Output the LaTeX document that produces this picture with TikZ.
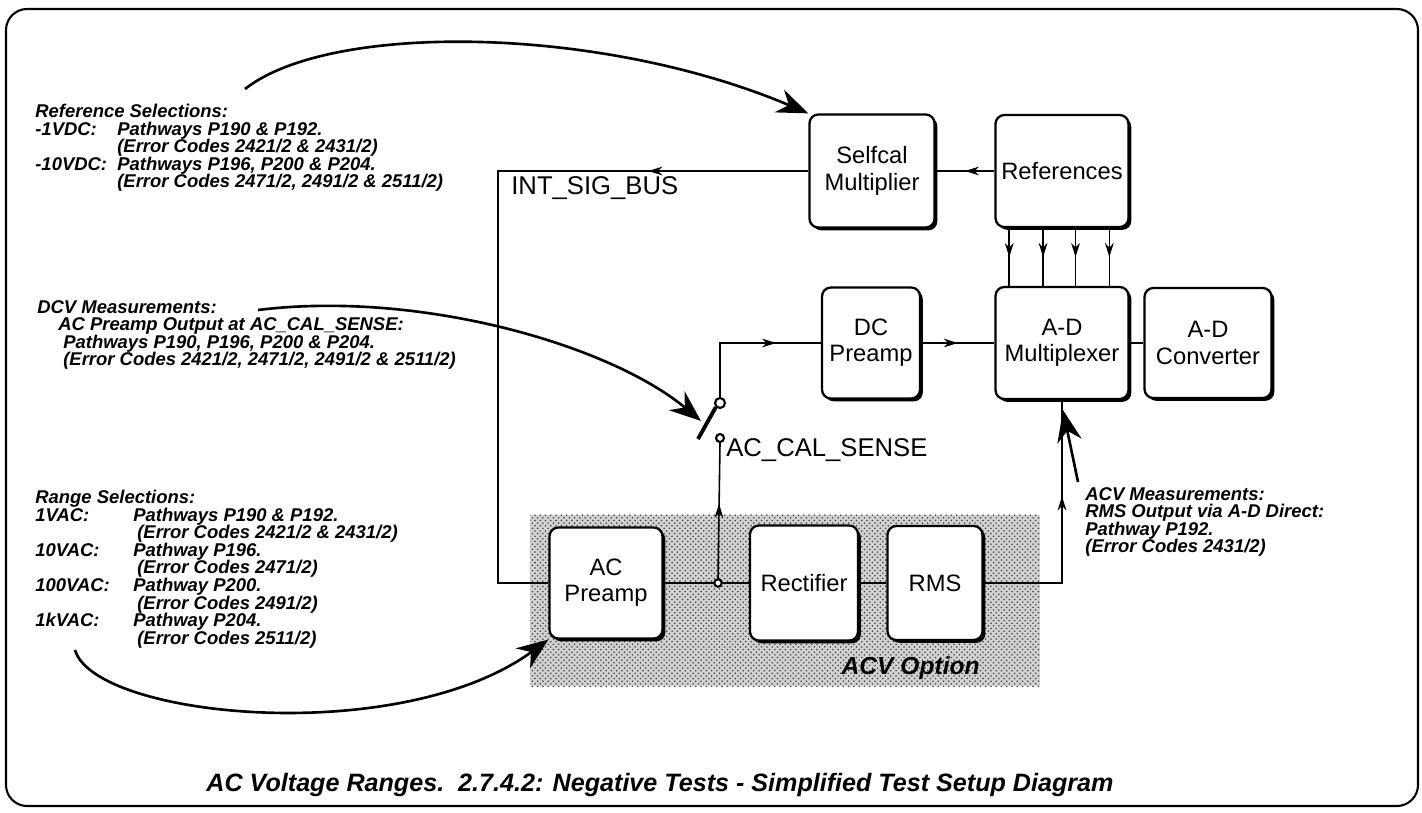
\documentclass[tikz,border=0pt]{standalone}
\usepackage{fontspec}
\setmainfont{Liberation Sans}
\usetikzlibrary{arrows.meta, shadows, patterns, calc, decorations.markings}

\tikzset{
  block/.style={draw, line width=1.3pt, rounded corners=5pt, fill=white, align=center,
    font=\fontsize{13.5}{15}\selectfont, inner sep=1pt,
    drop shadow={shadow xshift=1.6pt, shadow yshift=-1.6pt, opacity=1, fill=black}},
  wire/.style={line width=0.9pt},
  midarrow/.style={postaction={decorate, decoration={markings,
    mark=at position #1 with {\arrow{Stealth[length=8pt, width=5pt]}}}}},
  note/.style={line width=1.5pt, -{Stealth[length=18pt, width=14pt, inset=6pt]}},
  annot/.style={font=\fontsize{10.5}{10}\selectfont\bfseries\itshape, align=left,
    inner sep=0pt, anchor=north west},
  lbl/.style={font=\fontsize{14.6}{16}\selectfont, inner sep=0pt, anchor=west},
  contact/.style={circle, draw, line width=1.2pt, fill=white, inner sep=0pt, minimum size=0.18cm}
}

\begin{document}
\begin{tikzpicture}[x=0.02cm, y=-0.02cm]
    \useasboundingbox (0,0) rectangle (1422,813);

    % Outer frame
    \draw[line width=1.2pt, rounded corners=12pt] (6,9) rectangle (1418,806);

    % ACV option area
    \fill[gray!35] (530,515) rectangle (1040,686);
    \fill[pattern=crosshatch dots, pattern color=black!75] (530,515) rectangle (1040,686);
    \node[font=\fontsize{14}{16}\selectfont\bfseries\itshape, anchor=base east, inner sep=0pt]
        (acvlbl) at (980,674) {ACV Option};

    % Blocks
    \node[block, minimum width=2.5cm, minimum height=2.26cm] (selfcal) at (872,171) {Selfcal\\Multiplier};
    \node[block, minimum width=2.66cm, minimum height=2.24cm] (refs) at (1062,171) {References};
    \node[block, minimum width=1.96cm, minimum height=2.22cm] (dcpre) at (871,343) {DC\\Preamp};
    \node[block, minimum width=2.66cm, minimum height=2.24cm] (mux) at (1062,343) {A-D\\Multiplexer};
    \node[block, minimum width=2.54cm, minimum height=2.2cm] (adc) at (1208,343) {A-D\\Converter};
    \node[block, minimum width=2.26cm, minimum height=2.22cm] (acpre) at (606,583) {AC\\Preamp};
    \node[block, minimum width=2.16cm, minimum height=2.3cm] (rect) at (804,583) {Rectifier};
    \node[block, minimum width=1.9cm, minimum height=2.28cm] (rms) at (935,583) {RMS};

    % Switch
    \node[contact, minimum size=0.2cm] (swtop) at (720,403) {};
    \node[contact, minimum size=0.16cm] (swbot) at (720,438) {};
    \node[contact, minimum size=0.15cm] (junc) at (718,583) {};
    \coordinate (bladeend) at (698,439);
    \draw[line width=2.2pt] (bladeend) -- (swtop.south west);

    % Signal paths
    \coordinate (buscorner) at (498,583);
    \draw[wire, midarrow=3.2cm] (selfcal.west) -| (buscorner) -- (acpre.west);
    \draw[wire, midarrow=0.5] (refs.west) -- (selfcal.east);
    \foreach \f in {0.11,0.36,0.6,0.85}
        \draw[wire, midarrow=0.5] ($(refs.south west)!\f!(refs.south east)$) -- ($(mux.north west)!\f!(mux.north east)$);
    \draw[wire, midarrow=2.2cm] (swtop.north) |- (dcpre.west);
    \draw[wire, midarrow=0.5] (dcpre.east) -- (mux.west);
    \draw[wire] (mux.east) -- (adc.west);
    \draw[wire] (acpre.east) -- (junc.west);
    \draw[wire] (junc.east) -- (rect.west);
    \draw[wire, midarrow=0.55] (junc.north) -- (swbot.south);
    \draw[wire] (rect.east) -- (rms.west);
    \draw[wire, midarrow=3.3cm] (rms.east) -| (mux.south);

    % Signal labels
    \node[lbl] (bus) at (511,188) {INT\_SIG\_BUS};
    \node[lbl] (sense) at (726,450) {AC\_CAL\_SENSE};

    % Notes
    \node[annot] (refsel) at (35,104) {Reference Selections:\\
        \makebox[1.64cm][l]{-1VDC:}Pathways P190 \& P192.\\
        \hspace*{1.64cm}(Error Codes 2421/2 \& 2431/2)\\
        \makebox[1.64cm][l]{-10VDC:}Pathways P196, P200 \& P204.\\
        \hspace*{1.64cm}(Error Codes 2471/2, 2491/2 \& 2511/2)};
    \node[annot] (dcvmeas) at (37,300) {DCV Measurements:\\
        \hspace*{0.42cm}AC Preamp Output at AC\_CAL\_SENSE:\\
        \hspace*{0.52cm}Pathways P190, P196, P200 \& P204.\\
        \hspace*{0.52cm}(Error Codes 2421/2, 2471/2, 2491/2 \& 2511/2)};
    \node[annot] (rangesel) at (35,490) {Range Selections:\\
        \makebox[1.96cm][l]{1VAC:}Pathways P190 \& P192.\\
        \hspace*{2.04cm}(Error Codes 2421/2 \& 2431/2)\\
        \makebox[1.96cm][l]{10VAC:}Pathway P196.\\
        \hspace*{2.04cm}(Error Codes 2471/2)\\
        \makebox[1.96cm][l]{100VAC:}Pathway P200.\\
        \hspace*{2.04cm}(Error Codes 2491/2)\\
        \makebox[1.96cm][l]{1kVAC:}Pathway P204.\\
        \hspace*{2.04cm}(Error Codes 2511/2)};
    \node[annot] (acvmeas) at (1085,487) {ACV Measurements:\\
        RMS Output via A-D Direct:\\
        Pathway P192.\\
        (Error Codes 2431/2)};

    % Note pointers
    \coordinate (refstart) at (245,89);
    \coordinate (dcvstart) at (258,310);
    \coordinate (bladetip) at (701,421);
    \coordinate (rangestart) at (75,650);
    \coordinate (acvstart) at (1078,482);
    \draw[note] (refstart) .. controls (330,22) and (600,25) .. (selfcal.north west);
    \draw[note] (dcvstart) .. controls (420,290) and (610,345) .. (bladetip);
    \draw[note] (rangestart) .. controls (95,718) and (400,748) .. (acpre.south west);
    \draw[note] (acvstart) -- ($(mux.south)+(1,10)$);

    % Caption
    \node[font=\fontsize{14.3}{16}\selectfont\bfseries\itshape] (caption) at (660,785)
        {AC Voltage Ranges.\ \ 2.7.4.2: Negative Tests - Simplified Test Setup Diagram};
\end{tikzpicture}
\end{document}
